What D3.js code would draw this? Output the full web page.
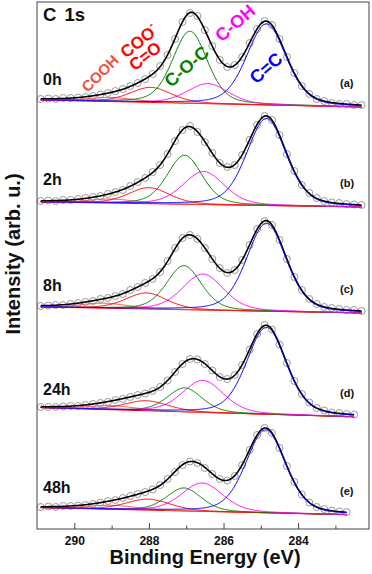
<!DOCTYPE html>
<html>
<head>
<meta charset="utf-8">
<script src="https://cdn.jsdelivr.net/npm/d3@7"></script>
<style>
  body { margin: 0; background: #fff; }
  svg { display: block; }
</style>
</head>
<body>
<div id="chart"></div>
<script>
// colours
var frameGrey = "#444444";
var dotGrey = "#999999";
var coohRed = "#F0503C";
var cooRed = "#FF0000";
var cocGreen = "#008000";
var cohPink = "#FF00FF";
var ccBlue = "#0000FF";

const fontFamily = "Arial, 'Liberation Sans', sans-serif";

// binding energies of the measured points (eV)
const energy = [290.9, 290.7, 290.5, 290.3, 290.1, 289.9, 289.7, 289.5, 289.3, 289.1,
  288.9, 288.7, 288.5, 288.3, 288.1, 287.9, 287.7, 287.5, 287.3, 287.1,
  286.9, 286.7, 286.5, 286.3, 286.1, 285.9, 285.7, 285.5, 285.3, 285.1,
  284.9, 284.7, 284.5, 284.3, 284.1, 283.9, 283.7, 283.5, 283.3, 283.1,
  282.9, 282.7, 282.5, 282.3];

// measured intensities (arb. u.), one array per sample
const int0h = [8, 8.5, 8, 9, 9, 9.5, 10, 11, 12.5, 14, 16, 18, 21, 24, 28, 33, 41, 52, 68, 85,
  94, 91, 77, 61, 47, 40, 42, 50, 64, 78, 86, 82, 68, 50, 34, 21, 13, 8, 6, 4, 3, 3, 2, 2];
const int2h = [6, 6.5, 6, 7, 7, 8, 9, 10, 11, 13, 15, 17, 21, 25, 29, 35, 42, 53, 66, 77,
  81, 75, 65, 54, 44, 40, 42, 52, 67, 82, 91, 87, 72, 53, 36, 22, 14, 9, 6, 4.5, 4, 3, 2.5, 2];
const int8h = [7, 7.5, 8, 8, 9, 10, 11, 12, 14, 15, 17, 19, 23, 26, 30, 34, 41, 52, 65, 75,
  78, 74, 65, 54, 45, 40, 43, 53, 68, 84, 92, 88, 73, 54, 36, 23, 14, 9, 6, 5, 4, 3, 3, 2];
const int24h = [10, 10, 10, 10.5, 11, 11, 12, 13, 14, 15, 17, 18, 20, 22, 23.5, 26, 30, 36.5, 45, 53,
  58, 57.5, 53, 46.5, 40, 38, 42, 52, 67.5, 83, 92, 87.5, 72.5, 54, 36, 23, 14.5, 9, 6.5, 4.5, 4, 3, 2.5];
const int48h = [8, 8.5, 8, 9, 9, 9.5, 10, 11, 12.5, 14, 15, 17, 19, 21, 23, 25.5, 30, 36, 43, 50,
  53.5, 52, 47, 41, 36, 34.5, 39, 50, 65, 80, 87, 82, 67, 49, 33, 20.5, 12.5, 8, 6, 4.5, 3.5, 3];

// fitted components: [centre eV, height, FWHM eV] for COOH, COO-/C=O, C-O-C, C-OH, C=C
const fit0h = [[289.0, 4, 1.5], [287.95, 15, 1.3], [286.9, 72, 1.1], [286.42, 20, 1.3], [284.85, 81, 1.25]];
const fit2h = [[289.0, 4, 1.5], [288.0, 16, 1.3], [287.04, 49, 1.1], [286.53, 33, 1.3], [284.85, 87, 1.25]];
const fit8h = [[289.2, 5, 1.5], [288.07, 16, 1.3], [287.06, 44, 1.1], [286.55, 36, 1.3], [284.85, 88, 1.25]];
const fit24h = [[289.0, 4, 1.6], [288.07, 10, 1.4], [287.04, 24, 1.1], [286.55, 32, 1.3], [284.85, 87, 1.25]];
const fit48h = [[289.0, 4, 1.6], [288.02, 11, 1.4], [287.06, 23, 1.1], [286.57, 28.4, 1.3], [284.87, 83, 1.25]];

// stacking offset and background rise (high-BE end above low-BE end)
const offsets = [422, 322, 216, 112, 14];
const bgRise = [7, 5, 6, 9.3, 7.3];

const sampleNames = ["0h", "2h", "8h", "24h", "48h"];
const panelTags = ["(a)", "(b)", "(c)", "(d)", "(e)"];
const componentColors = [coohRed, cooRed, cocGreen, cohPink, ccBlue];

const xTicks = [290, 288, 286, 284];
const xMinorTicks = [289, 287, 285, 283];

const panelValues = [int0h, int2h, int8h, int24h, int48h];
const panelFits = [fit0h, fit2h, fit8h, fit24h, fit48h];

// set the dimensions and margins of the graph
const W = 372, H = 574;
const margin = { top: 2, right: 3, bottom: 45, left: 37 },
    width = W - margin.left - margin.right,
    height = H - margin.top - margin.bottom;

const svg = d3.select("#chart")
    .append("svg")
    .attr("width", W)
    .attr("height", H)
    .style("font-family", fontFamily);

const g = svg.append("g")
    .attr("transform", `translate(${margin.left}, ${margin.top})`);

const x = d3.scaleLinear().domain([291, 282.1]).range([0, width]);
const y = d3.scaleLinear().domain([0, 527]).range([height, 0]);

// component shape (Gaussian-Lorentzian mix)
function peak(e, p) {
    const r = (e - p[0]) / (p[2] / 2);
    return p[1] * (0.7 * Math.pow(2, -r * r) + 0.3 / (1 + r * r));
}

panelValues.forEach(function (vals, i) {
    const off = offsets[i];
    const eLast = energy[vals.length - 1];
    const bg = e => bgRise[i] * (e - 282.3) / (290.9 - 282.3);
    const grid = d3.range(eLast, 290.9001, 0.02);
    const fits = panelFits[i];

    // measured points
    g.append("g").selectAll("circle")
        .data(vals)
        .enter().append("circle")
        .attr("cx", (d, k) => x(energy[k]))
        .attr("cy", d => y(off + d))
        .attr("r", 3.5)
        .attr("fill", "none")
        .attr("stroke", dotGrey)
        .attr("stroke-width", 1);

    // envelope
    g.append("path")
        .datum(grid)
        .attr("d", d3.line()
            .x(e => x(e))
            .y(e => y(off + bg(e) + d3.sum(fits, p => peak(e, p)))))
        .attr("fill", "none")
        .attr("stroke", "#000")
        .attr("stroke-width", 1.6);

    // background
    g.append("path")
        .datum([eLast, 290.9])
        .attr("d", d3.line().x(e => x(e)).y(e => y(off + bg(e))))
        .attr("fill", "none")
        .attr("stroke", cooRed)
        .attr("stroke-width", 1);

    // components
    fits.forEach(function (p, j) {
        g.append("path")
            .datum(grid)
            .attr("d", d3.line()
                .x(e => x(e))
                .y(e => y(off + bg(e) + peak(e, p))))
            .attr("fill", "none")
            .attr("stroke", componentColors[j])
            .attr("stroke-width", 1);
    });

    g.append("text")
        .text(sampleNames[i])
        .attr("x", 6)
        .attr("y", y(off) - 22)
        .attr("font-size", 16)
        .attr("font-weight", "bold")
        .attr("fill", "#111");

    g.append("text")
        .text(panelTags[i])
        .attr("x", 303)
        .attr("y", y(off) - 20)
        .attr("font-size", 11)
        .attr("font-weight", "bold")
        .attr("fill", "#111");
});

// frame
g.append("rect")
    .attr("width", width)
    .attr("height", height)
    .attr("fill", "none")
    .attr("stroke", frameGrey)
    .attr("stroke-width", 1);

// X axis
const xAxis = g.append("g")
    .attr("transform", `translate(0, ${height})`)
    .call(d3.axisBottom(x).tickValues(xTicks).tickSize(-6).tickPadding(7).tickFormat(d3.format("d")));
xAxis.select(".domain").remove();
xAxis.selectAll("line").attr("stroke", frameGrey);
xAxis.selectAll("text")
    .attr("font-family", fontFamily)
    .attr("font-size", 12)
    .attr("font-weight", "bold")
    .attr("fill", "#111");

const xMinor = g.append("g")
    .attr("transform", `translate(0, ${height})`)
    .call(d3.axisBottom(x).tickValues(xMinorTicks).tickSize(-3.5).tickFormat(""));
xMinor.select(".domain").remove();
xMinor.selectAll("line").attr("stroke", frameGrey);

// axis titles
svg.append("text")
    .text("Binding Energy (eV)")
    .attr("x", 205)
    .attr("y", 564)
    .attr("text-anchor", "middle")
    .attr("font-size", 20)
    .attr("font-weight", "bold")
    .attr("fill", "#111");

svg.append("text")
    .text("Intensity (arb. u.)")
    .attr("transform", "translate(19.5, 254) rotate(-90)")
    .attr("text-anchor", "middle")
    .attr("font-size", 20)
    .attr("font-weight", "bold")
    .attr("fill", "#111");

// title
svg.append("text")
    .text("C 1s")
    .attr("x", 43)
    .attr("y", 21)
    .attr("font-size", 18.5)
    .attr("font-weight", "bold")
    .attr("word-spacing", 3)
    .attr("fill", "#111");

// component labels on the top spectrum
function label(txt, cx, cy, angle, size, color) {
    return svg.append("text")
        .attr("transform", `translate(${cx}, ${cy}) rotate(${angle})`)
        .attr("text-anchor", "middle")
        .attr("dy", "0.35em")
        .attr("font-size", size)
        .attr("font-weight", "bold")
        .attr("fill", color)
        .text(txt);
}
label("COOH", 100, 73.5, -45, 15, coohRed);
const cooLabel = label("COO", 139, 41, -38, 17, cooRed);
cooLabel.append("tspan").attr("dy", -8).attr("font-size", 11).text("-");
label("C=O", 145, 56, -38, 17, cooRed);
label("C-O-C", 186.5, 66.5, -41, 18, cocGreen);
label("C-OH", 235, 23, -41, 18, cohPink);
label("C=C", 266, 68, -41, 18, ccBlue);
</script>
</body>
</html>
